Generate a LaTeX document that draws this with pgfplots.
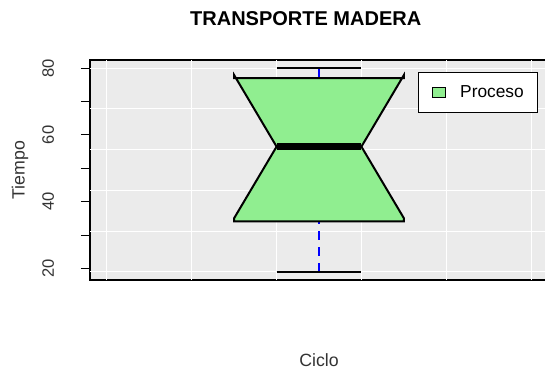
\documentclass[border=0pt]{standalone}
\usepackage{fontspec}
\setmainfont{Liberation Sans}
\usepackage{pgfplots}
\pgfplotsset{compat=1.18}
\definecolor{panelgray}{HTML}{EBEBEB}
\definecolor{boxgreen}{HTML}{90EE90}
\definecolor{whiskblue}{HTML}{0000FF}

\begin{document}
\begin{tikzpicture}
\begin{axis}[
    at={(67.5pt,-210pt)}, anchor=south west,
    scale only axis,
    width=343.5pt, height=165pt,
    xmin=0.46, xmax=1.54,
    ymin=16.56, ymax=82.44,
    axis background/.style={fill=panelgray},
    axis line style={black, line width=0.9pt},
    xtick=\empty,
    ytick={20,30,40,50,60,70,80},
    yticklabels={20,,40,,60,,80},
    tick align=outside,
    major tick length=6.75pt,
    ytick pos=left,
    tick style={black, line width=0.75pt},
    /pgf/number format/assume math mode=true,
    yticklabel style={font=\fontsize{12.4}{14}\selectfont, text=black!80, inner sep=0pt, anchor=base, xshift=-20.25pt, rotate=90},
    title={TRANSPORTE MADERA},
    title style={at={(axis description cs:0.471,1.159)}, anchor=base, yshift=-6pt, font=\bfseries\fontsize{15}{18}\selectfont},
    xlabel={Ciclo},
    xlabel style={at={(axis description cs:0.5,-0.391)}, anchor=base, font=\fontsize{13.3}{16}\selectfont, text=black!80},
    ylabel={Tiempo},
    ylabel style={at={(axis description cs:-0.143,0.5)}, anchor=base, font=\fontsize{13.3}{16}\selectfont, text=black!80},
    legend style={at={(axis description cs:0.7162,0.9468)}, anchor=north west,
        draw=black, line width=0.75pt, fill=white,
        inner xsep=10pt, inner ysep=10pt,
        font=\fontsize{13}{15}\selectfont,
        nodes={inner sep=0pt}, column sep=11pt},
    legend image code/.code={\draw[fill=boxgreen, draw=black, line width=0.75pt] (0pt,-3.9pt) rectangle (9.5pt,3.9pt);},
]
% fondo de cuadricula
\addplot[white, line width=0.7pt, forget plot] coordinates {(0.46,19) (1.54,19)};
\addplot[white, line width=0.7pt, forget plot] coordinates {(0.46,31.2) (1.54,31.2)};
\addplot[white, line width=0.7pt, forget plot] coordinates {(0.46,43.4) (1.54,43.4)};
\addplot[white, line width=0.7pt, forget plot] coordinates {(0.46,55.6) (1.54,55.6)};
\addplot[white, line width=0.7pt, forget plot] coordinates {(0.46,67.8) (1.54,67.8)};
\addplot[white, line width=0.7pt, forget plot] coordinates {(0.46,80) (1.54,80)};
\addplot[white, line width=0.7pt, forget plot] coordinates {(0.5,16.56) (0.5,82.44)};
\addplot[white, line width=0.7pt, forget plot] coordinates {(0.7,16.56) (0.7,82.44)};
\addplot[white, line width=0.7pt, forget plot] coordinates {(0.9,16.56) (0.9,82.44)};
\addplot[white, line width=0.7pt, forget plot] coordinates {(1.1,16.56) (1.1,82.44)};
\addplot[white, line width=0.7pt, forget plot] coordinates {(1.3,16.56) (1.3,82.44)};
\addplot[white, line width=0.7pt, forget plot] coordinates {(1.5,16.56) (1.5,82.44)};
% bigotes
\addplot[whiskblue, line width=1.5pt, dash pattern=on 7pt off 5pt, forget plot] coordinates {(1,19) (1,34.1)};
\addplot[whiskblue, line width=1.5pt, dash pattern=on 7pt off 5pt, forget plot] coordinates {(1,80) (1,77.0)};
\addplot[black, line width=1.5pt, forget plot] coordinates {(0.9,19) (1.1,19)};
\addplot[black, line width=1.5pt, forget plot] coordinates {(0.9,80) (1.1,80)};
% caja con muesca
\addplot[fill=boxgreen, draw=black, line width=1.5pt, line join=miter] coordinates {
    (0.8,34.1) (1.2,34.1) (1.2,35.1) (1.1,56.5) (1.2,77.9) (1.2,77.0)
    (0.8,77.0) (0.8,77.9) (0.9,56.5) (0.8,35.1) (0.8,34.1)
} -- cycle;
\addlegendentry{Proceso}
% mediana
\addplot[black, line width=4.8pt, forget plot] coordinates {(0.9,56.5) (1.1,56.5)};
\end{axis}
\pgfresetboundingbox
\path[use as bounding box] (0pt,0pt) rectangle (408.75pt,-276pt);
\end{tikzpicture}
\end{document}
